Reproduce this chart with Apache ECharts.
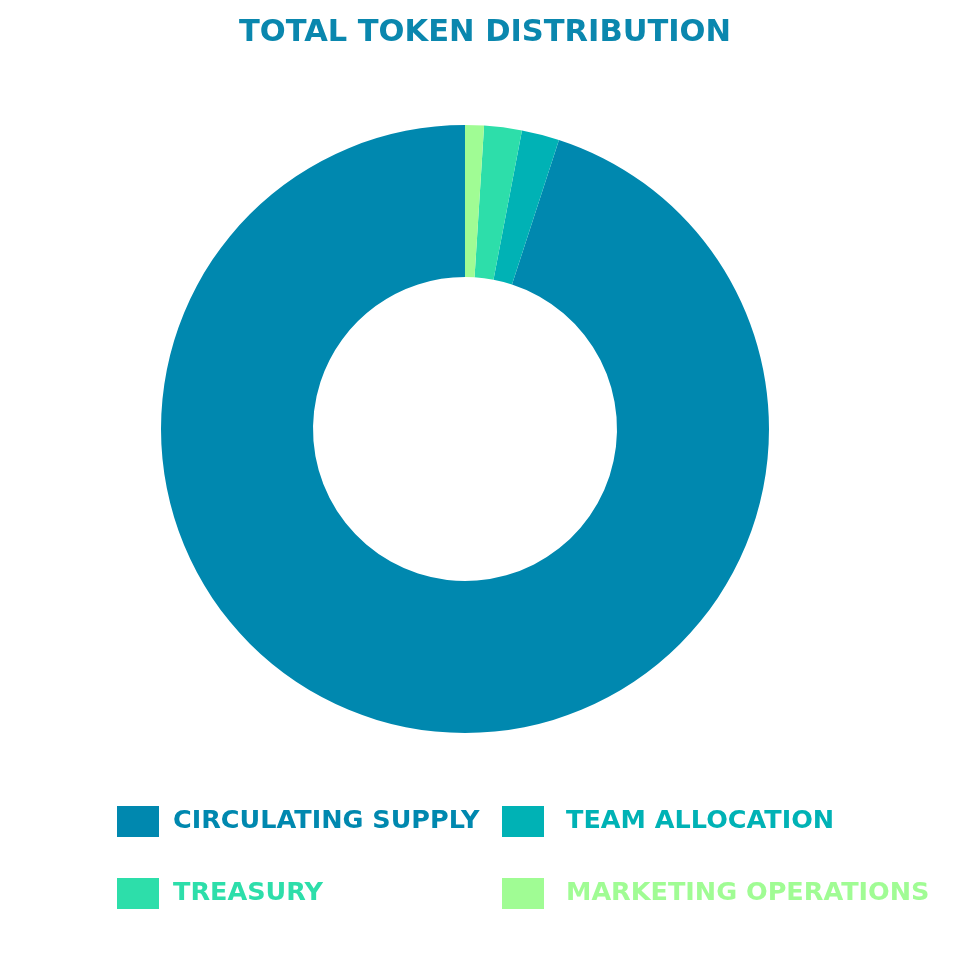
<!DOCTYPE html>
<html>
<head>
<meta charset="utf-8">
<script src="https://cdn.jsdelivr.net/npm/echarts@6/dist/echarts.min.js"></script>
<style>html,body{margin:0;padding:0;background:#fff;}#c{width:970px;height:970px;}</style>
</head>
<body>
<div id="c"></div>
<script>
const titleText = 'TOTAL TOKEN DISTRIBUTION';
const categories = ['CIRCULATING SUPPLY', 'TEAM ALLOCATION', 'TREASURY', 'MARKETING OPERATIONS'];
const values = [95, 2, 2, 1];
const colors = ['#0088AF', '#00B2B5', '#2DDEAA', '#A0FC94'];

const font = '"DejaVu Sans", sans-serif';
const chart = echarts.init(document.getElementById('c'));

function legendCol(idx, left, gap) {
  return {
    orient: 'vertical',
    left: left,
    top: 806,
    padding: 0,
    itemWidth: 42,
    itemHeight: 31,
    itemGap: 41,
    icon: 'rect',
    selectedMode: false,
    data: idx.map(i => ({
      name: categories[i],
      textStyle: { color: colors[i] }
    })),
    textStyle: {
      fontFamily: font,
      fontWeight: 'bold',
      fontSize: 25.5,
      padding: [0, 0, 0, gap]
    }
  };
}

chart.setOption({
  animation: false,
  color: colors,
  title: {
    text: titleText,
    left: 'center',
    top: 13,
    textStyle: {
      color: '#0A87AE',
      fontFamily: font,
      fontWeight: 'bold',
      fontSize: 30.5
    }
  },
  legend: [legendCol([0, 2], 117, 9), legendCol([1, 3], 502, 17)],
  series: [{
    type: 'pie',
    center: [465, 429],
    radius: [152, 304],
    startAngle: 90,
    clockwise: false,
    label: { show: false },
    labelLine: { show: false },
    emphasis: { disabled: true },
    itemStyle: { borderWidth: 0 },
    data: categories.map((c, i) => ({ name: c, value: values[i] }))
  }]
});
</script>
</body>
</html>
